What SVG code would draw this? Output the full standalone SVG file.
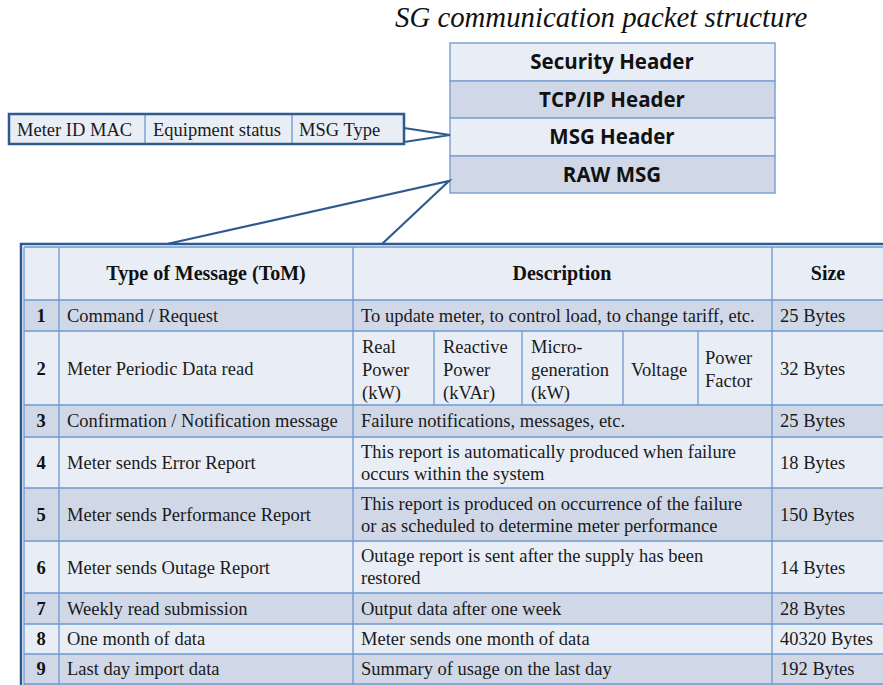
<svg xmlns="http://www.w3.org/2000/svg" width="883" height="685" viewBox="0 0 883 685">
  <style>
    .title { font-family: "Liberation Serif", "Times New Roman", serif; font-style: italic; font-size: 28.8px; fill: #111; }
    .hdr { font-family: "Open Sans", "Liberation Sans", sans-serif; font-weight: bold; font-size: 20.5px; fill: #111; text-anchor: middle; }
    .t { font-family: "Liberation Serif", "Times New Roman", serif; font-size: 18.5px; fill: #1a1a1a; }
    .th { font-family: "Liberation Serif", "Times New Roman", serif; font-size: 20px; font-weight: bold; fill: #111; text-anchor: middle; }
    .num { font-family: "Liberation Serif", "Times New Roman", serif; font-size: 18.5px; font-weight: bold; fill: #111; text-anchor: middle; }
    .light { fill: #e9eef6; }
    .dark { fill: #d0d8e8; }
    .cell { stroke: #6d98d0; stroke-width: 1.3; fill: none; }
    .frame { stroke: #2f5a8f; stroke-width: 2.5; fill: none; }
    .conn { stroke: #2f5a8f; stroke-width: 2.2; fill: none; }
    .stack { stroke: #7fa2d2; stroke-width: 1.5; }
  </style>

  <text class="title" x="395" y="27">SG communication packet structure</text>

  <!-- packet header stack -->
  <g id="packet-stack">
    <g id="security-header">
      <rect class="light stack" x="450" y="43" width="325" height="38"/>
      <text class="hdr" x="612" y="69">Security Header</text>
    </g>
    <g id="tcpip-header">
      <rect class="dark stack" x="450" y="81" width="325" height="37"/>
      <text class="hdr" x="612" y="107">TCP/IP Header</text>
    </g>
    <g id="msg-header">
      <rect class="light stack" x="450" y="118" width="325" height="38"/>
      <text class="hdr" x="612" y="144">MSG Header</text>
    </g>
    <g id="raw-msg">
      <rect class="dark stack" x="450" y="156" width="325" height="37"/>
      <text class="hdr" x="612" y="182">RAW MSG</text>
    </g>
  </g>

  <!-- MSG header fields -->
  <g id="msg-fields">
    <rect class="light" x="9" y="114" width="395" height="30"/>
    <line class="cell" x1="145" y1="115" x2="145" y2="143"/>
    <line class="cell" x1="292" y1="115" x2="292" y2="143"/>
    <rect class="frame" x="9" y="114" width="395" height="30"/>
    <text class="t" x="17" y="136">Meter ID MAC</text>
    <text class="t" x="153" y="136">Equipment status</text>
    <text class="t" x="299" y="136">MSG Type</text>
  </g>

  <!-- connectors -->
  <g id="connectors">
    <polyline class="conn" points="404,128 450,135 404,142"/>
    <polyline class="conn" points="167,244 449,181 382,244"/>
  </g>

  <!-- RAW MSG breakdown table -->
  <g id="tom-table">
    <!-- row fills -->
    <rect class="light" x="24" y="247" width="860" height="53"/>
    <rect class="dark" x="24" y="300" width="860" height="31"/>
    <rect class="light" x="24" y="331" width="860" height="74"/>
    <rect class="dark" x="24" y="405" width="860" height="32"/>
    <rect class="light" x="24" y="437" width="860" height="51"/>
    <rect class="dark" x="24" y="488" width="860" height="53"/>
    <rect class="light" x="24" y="541" width="860" height="52"/>
    <rect class="dark" x="24" y="593" width="860" height="31"/>
    <rect class="light" x="24" y="624" width="860" height="30"/>
    <rect class="dark" x="24" y="654" width="860" height="31"/>

    <!-- grid lines -->
    <g class="cell">
      <line x1="24" y1="247" x2="884" y2="247"/>
      <line x1="24" y1="300" x2="884" y2="300"/>
      <line x1="24" y1="331" x2="884" y2="331"/>
      <line x1="24" y1="405" x2="884" y2="405"/>
      <line x1="24" y1="437" x2="884" y2="437"/>
      <line x1="24" y1="488" x2="884" y2="488"/>
      <line x1="24" y1="541" x2="884" y2="541"/>
      <line x1="24" y1="593" x2="884" y2="593"/>
      <line x1="24" y1="624" x2="884" y2="624"/>
      <line x1="24" y1="654" x2="884" y2="654"/>
      <line x1="24" y1="684" x2="884" y2="684"/>
      <line x1="24" y1="247" x2="24" y2="685"/>
      <line x1="59" y1="247" x2="59" y2="685"/>
      <line x1="353" y1="247" x2="353" y2="685"/>
      <line x1="772" y1="247" x2="772" y2="685"/>
      <line x1="434" y1="331" x2="434" y2="405"/>
      <line x1="522" y1="331" x2="522" y2="405"/>
      <line x1="623" y1="331" x2="623" y2="405"/>
      <line x1="698" y1="331" x2="698" y2="405"/>
    </g>

    <!-- outer frame -->
    <polyline class="frame" points="21,686 21,244 884,244"/>

    <!-- header -->
    <text class="th" x="206" y="280">Type of Message (ToM)</text>
    <text class="th" x="562" y="280">Description</text>
    <text class="th" x="828" y="280">Size</text>

    <!-- row 1 -->
    <text class="num" x="41" y="322">1</text>
    <text class="t" x="67" y="322">Command / Request</text>
    <text class="t" x="361" y="322">To update meter, to control load, to change tariff, etc.</text>
    <text class="t" x="780" y="322">25 Bytes</text>

    <!-- row 2 -->
    <text class="num" x="41" y="375">2</text>
    <text class="t" x="67" y="375">Meter Periodic Data read</text>
    <text class="t" x="362" y="353">Real</text>
    <text class="t" x="362" y="376">Power</text>
    <text class="t" x="362" y="399">(kW)</text>
    <text class="t" x="443" y="353">Reactive</text>
    <text class="t" x="443" y="376">Power</text>
    <text class="t" x="443" y="399">(kVAr)</text>
    <text class="t" x="531" y="353">Micro-</text>
    <text class="t" x="531" y="376">generation</text>
    <text class="t" x="531" y="399">(kW)</text>
    <text class="t" x="631" y="376">Voltage</text>
    <text class="t" x="705" y="364">Power</text>
    <text class="t" x="705" y="387">Factor</text>
    <text class="t" x="780" y="375">32 Bytes</text>

    <!-- row 3 -->
    <text class="num" x="41" y="427">3</text>
    <text class="t" x="67" y="427">Confirmation / Notification message</text>
    <text class="t" x="361" y="427">Failure notifications, messages, etc.</text>
    <text class="t" x="780" y="427">25 Bytes</text>

    <!-- row 4 -->
    <text class="num" x="41" y="469">4</text>
    <text class="t" x="67" y="469">Meter sends Error Report</text>
    <text class="t" x="361" y="458">This report is automatically produced when failure</text>
    <text class="t" x="361" y="480">occurs within the system</text>
    <text class="t" x="780" y="469">18 Bytes</text>

    <!-- row 5 -->
    <text class="num" x="41" y="521">5</text>
    <text class="t" x="67" y="521">Meter sends Performance Report</text>
    <text class="t" x="361" y="510">This report is produced on occurrence of the failure</text>
    <text class="t" x="361" y="532">or as scheduled to determine meter performance</text>
    <text class="t" x="780" y="521">150 Bytes</text>

    <!-- row 6 -->
    <text class="num" x="41" y="574">6</text>
    <text class="t" x="67" y="574">Meter sends Outage Report</text>
    <text class="t" x="361" y="562">Outage report is sent after the supply has been</text>
    <text class="t" x="361" y="584">restored</text>
    <text class="t" x="780" y="574">14 Bytes</text>

    <!-- row 7 -->
    <text class="num" x="41" y="615">7</text>
    <text class="t" x="67" y="615">Weekly read submission</text>
    <text class="t" x="361" y="615">Output data after one week</text>
    <text class="t" x="780" y="615">28 Bytes</text>

    <!-- row 8 -->
    <text class="num" x="41" y="645">8</text>
    <text class="t" x="67" y="645">One month of data</text>
    <text class="t" x="361" y="645">Meter sends one month of data</text>
    <text class="t" x="780" y="645">40320 Bytes</text>

    <!-- row 9 -->
    <text class="num" x="41" y="675">9</text>
    <text class="t" x="67" y="675">Last day import data</text>
    <text class="t" x="361" y="675">Summary of usage on the last day</text>
    <text class="t" x="780" y="675">192 Bytes</text>
  </g>
</svg>
